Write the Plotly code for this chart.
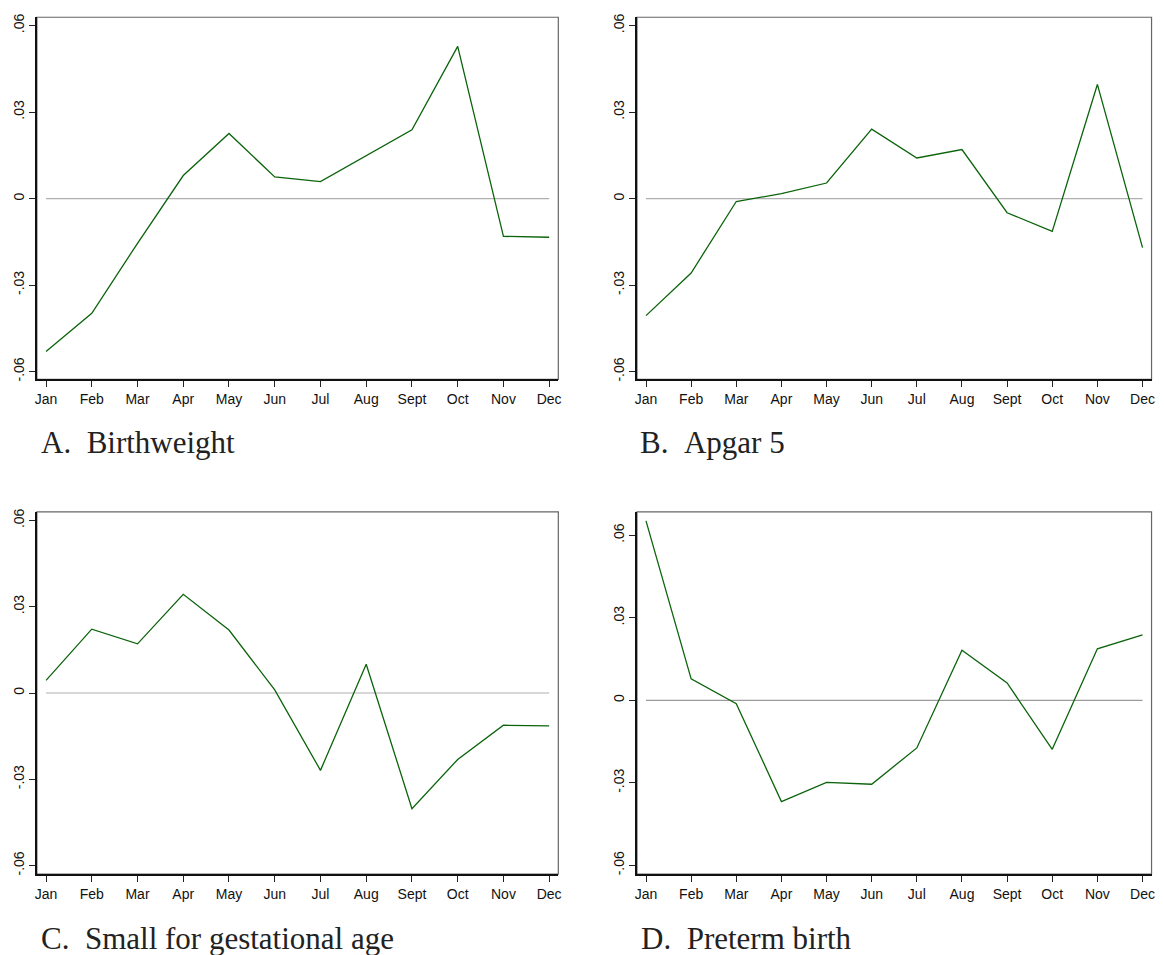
import plotly.graph_objects as go

# The page body has an 8px margin; lay the figure out in page pixels minus that offset.
OFF = 8
W, H = 1164 - OFF, 955 - OFF

months = ["Jan", "Feb", "Mar", "Apr", "May", "Jun", "Jul", "Aug", "Sept", "Oct", "Nov", "Dec"]
month_num = list(range(1, 13))

birthweight = [-0.0530, -0.0398, -0.0155, 0.0080, 0.0226, 0.0075, 0.0059, 0.0149, 0.0239, 0.0528, -0.0131, -0.0134]
apgar5 = [-0.0406, -0.0258, -0.0010, 0.0017, 0.0054, 0.0241, 0.0141, 0.0170, -0.0049, -0.0114, 0.0396, -0.0170]
small_gest = [0.0044, 0.0222, 0.0171, 0.0343, 0.0219, 0.0011, -0.0269, 0.0100, -0.0402, -0.0231, -0.0112, -0.0114]
preterm = [0.0652, 0.0078, -0.0012, -0.0368, -0.0298, -0.0305, -0.0173, 0.0182, 0.0063, -0.0178, 0.0187, 0.0238]
reference = [0] * 12

panel_titles = ["A.\u00a0\u00a0Birthweight", "B.\u00a0\u00a0Apgar 5",
                "C.\u00a0\u00a0Small for gestational age", "D.\u00a0\u00a0Preterm birth"]
ytick_vals = [-0.06, -0.03, 0, 0.03, 0.06]
ytick_text = ["-.06", "-.03", "0", ".03", ".06"]

series = [birthweight, apgar5, small_gest, preterm]
yranges = [[-0.0627, 0.0629], [-0.0627, 0.0629], [-0.0630, 0.0630], [-0.0632, 0.0685]]
zero_colors = ["#b0b0b0", "#b0b0b0", "#b0b0b0", "#9a9a9a"]

# pixel boxes in page coordinates (left, top, right, bottom)
boxes = [(35, 13.3, 558.7, 377.7), (637.7, 13.3, 1154.5, 377.7),
         (35, 511, 558.7, 875.7), (637.7, 511, 1154.5, 875.7)]
title_pos = [(37, 441.4), (639, 441.4), (37, 940), (640, 940)]

fig = go.Figure()
tick_font = dict(family="Liberation Sans, Arial, sans-serif", size=14, color="#111111")

for i, (vals, yr, box) in enumerate(zip(series, yranges, boxes)):
    n = i + 1
    xa = "x" if n == 1 else f"x{n}"
    ya = "y" if n == 1 else f"y{n}"
    l, t, r, b = [v - OFF for v in box]
    fig.add_trace(go.Scatter(x=month_num, y=reference, mode="lines",
                             line=dict(color=zero_colors[i], width=1.2),
                             xaxis=xa, yaxis=ya, showlegend=False, hoverinfo="skip"))
    fig.add_trace(go.Scatter(x=month_num, y=vals, mode="lines",
                             line=dict(color="#0b640b", width=1.3),
                             xaxis=xa, yaxis=ya, showlegend=False))
    xkey = "xaxis" if n == 1 else f"xaxis{n}"
    ykey = "yaxis" if n == 1 else f"yaxis{n}"
    fig.update_layout(**{
        xkey: dict(domain=[l / W, min(r / W, 1.0)], anchor=ya, range=[0.8, 12.2],
                   tickvals=month_num, ticktext=months, ticks="outside", ticklen=6,
                   tickwidth=1, tickcolor="#222222", showline=True, linecolor="#111111",
                   linewidth=1.5, showgrid=False, zeroline=False, tickfont=tick_font),
        ykey: dict(domain=[max(1 - b / H, 0.0), 1 - t / H], anchor=xa, range=yr,
                   tickvals=ytick_vals, ticktext=ytick_text, tickangle=-90,
                   ticks="outside", ticklen=6, tickwidth=1, tickcolor="#222222",
                   showline=True, linecolor="#111111", linewidth=1.5,
                   showgrid=False, zeroline=False, tickfont=tick_font),
    })
    fig.add_shape(type="rect", xref=f"{xa} domain", yref=f"{ya} domain",
                  x0=0, x1=1, y0=0, y1=1, line=dict(color="#666666", width=1.2),
                  layer="below")
    tx, ty = title_pos[i]
    fig.add_annotation(text=panel_titles[i], x=(tx - OFF) / W, y=1 - (ty - OFF) / H,
                       xref="paper", yref="paper",
                       xanchor="left", yanchor="middle", showarrow=False,
                       font=dict(family="Liberation Serif, Times New Roman, serif", size=31,
                                 color="#222222"))

fig.update_layout(width=W, height=H, margin=dict(l=0, r=0, t=0, b=0),
                  paper_bgcolor="white", plot_bgcolor="white")

fig.write_html("out.html")
